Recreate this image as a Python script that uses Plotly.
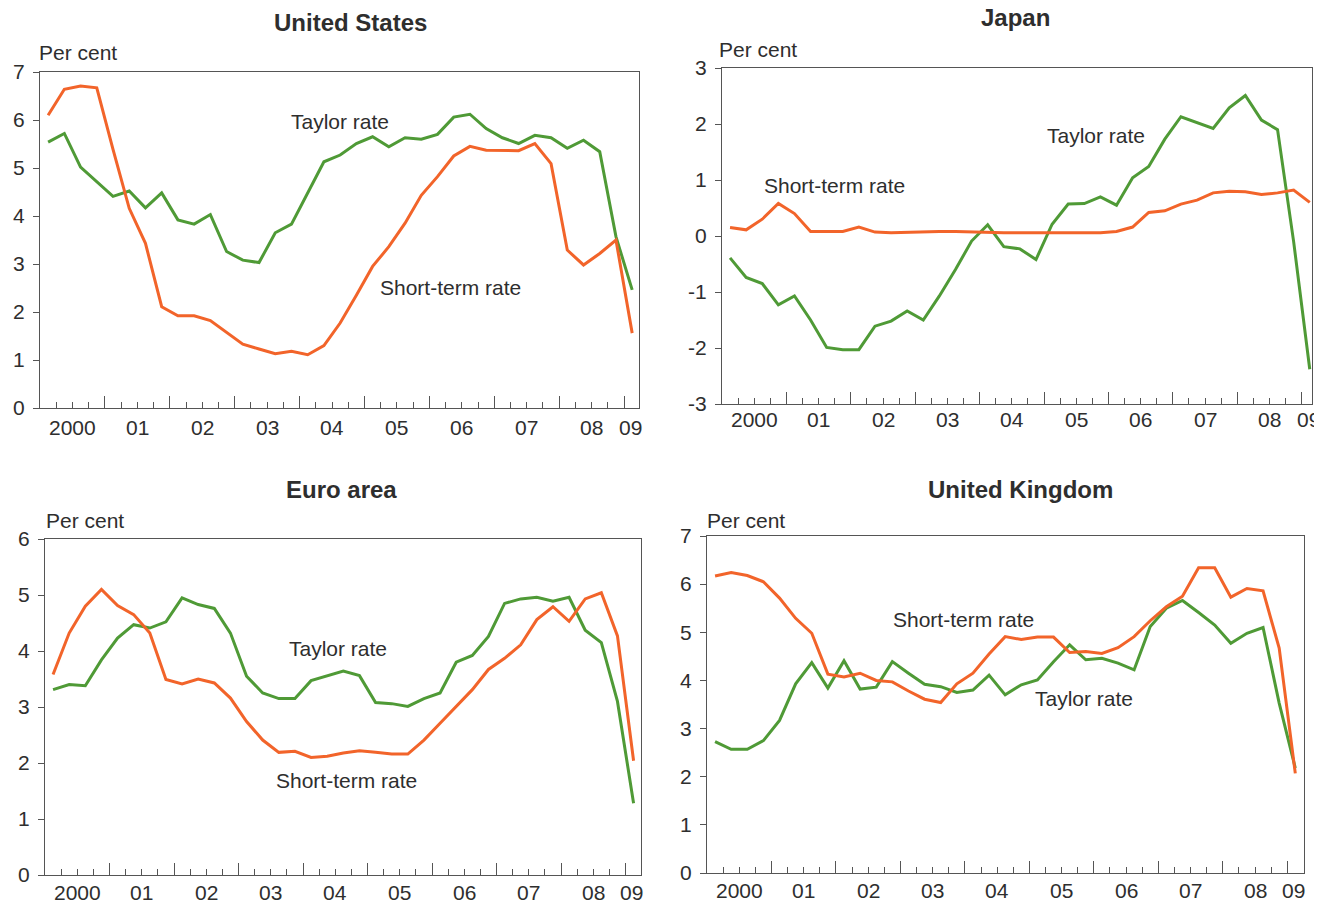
import plotly.graph_objects as go

# ---------------- data (quarterly, 2000Q1 .. 2009Q1) ----------------
quarters = [2000.125 + 0.25 * i for i in range(37)]
year_labels = ["2000", "01", "02", "03", "04", "05", "06", "07", "08", "09"]

us_short = [6.10, 6.64, 6.71, 6.67, 5.39, 4.16, 3.43, 2.11, 1.92, 1.92,
            1.82, 1.57, 1.33, 1.23, 1.13, 1.18, 1.11, 1.30, 1.77, 2.35,
            2.95, 3.36, 3.85, 4.43, 4.82, 5.25, 5.45, 5.37, 5.36, 5.36,
            5.51, 5.09, 3.29, 2.98, 3.22, 3.50, 1.56]
us_taylor = [5.54, 5.72, 5.02, 4.71, 4.41, 4.52, 4.17, 4.48, 3.92, 3.83,
             4.03, 3.26, 3.08, 3.03, 3.65, 3.83, 4.47, 5.13, 5.27, 5.51,
             5.65, 5.44, 5.63, 5.60, 5.70, 6.06, 6.12, 5.82, 5.63, 5.51,
             5.68, 5.63, 5.41, 5.58, 5.34, 3.57, 2.46]

jp_short = [0.15, 0.11, 0.30, 0.58, 0.40, 0.08, 0.08, 0.08, 0.16, 0.07,
            0.06, 0.07, 0.07, 0.08, 0.08, 0.07, 0.06, 0.06, 0.06, 0.06,
            0.06, 0.06, 0.06, 0.06, 0.08, 0.16, 0.42, 0.45, 0.57, 0.64,
            0.77, 0.80, 0.79, 0.74, 0.77, 0.82, 0.60]
jp_taylor = [-0.39, -0.74, -0.85, -1.23, -1.07, -1.50, -1.99, -2.03, -2.03, -1.61,
             -1.52, -1.34, -1.50, -1.07, -0.60, -0.09, 0.20, -0.19, -0.23, -0.42,
             0.21, 0.57, 0.58, 0.70, 0.55, 1.04, 1.24, 1.73, 2.13, 2.02,
             1.92, 2.29, 2.51, 2.07, 1.90, -0.10, -2.38]

ea_short = [3.58, 4.32, 4.80, 5.10, 4.81, 4.65, 4.32, 3.49, 3.41, 3.50,
            3.43, 3.16, 2.74, 2.41, 2.19, 2.21, 2.10, 2.12, 2.18, 2.22,
            2.19, 2.16, 2.16, 2.41, 2.71, 3.01, 3.31, 3.67, 3.87, 4.11,
            4.56, 4.79, 4.53, 4.93, 5.04, 4.27, 2.04]
ea_taylor = [3.31, 3.40, 3.38, 3.84, 4.23, 4.47, 4.41, 4.52, 4.95, 4.83,
             4.76, 4.32, 3.55, 3.25, 3.15, 3.15, 3.47, 3.56, 3.64, 3.56,
             3.08, 3.06, 3.01, 3.15, 3.25, 3.80, 3.92, 4.26, 4.85, 4.93,
             4.96, 4.89, 4.96, 4.37, 4.15, 3.10, 1.28]

uk_short = [6.17, 6.24, 6.18, 6.05, 5.71, 5.29, 4.98, 4.13, 4.07, 4.15,
            4.00, 3.97, 3.78, 3.61, 3.54, 3.93, 4.15, 4.55, 4.91, 4.85,
            4.90, 4.90, 4.58, 4.60, 4.56, 4.68, 4.91, 5.24, 5.53, 5.75,
            6.34, 6.34, 5.73, 5.91, 5.86, 4.67, 2.07]
uk_taylor = [2.73, 2.57, 2.57, 2.75, 3.17, 3.93, 4.37, 3.84, 4.41, 3.82,
             3.86, 4.39, 4.15, 3.92, 3.87, 3.75, 3.80, 4.11, 3.70, 3.91,
             4.01, 4.39, 4.74, 4.43, 4.46, 4.36, 4.22, 5.12, 5.50, 5.66,
             5.41, 5.15, 4.77, 4.98, 5.10, 3.53, 2.18]

titles = ["United States", "Japan", "Euro area", "United Kingdom"]
y_ranges = [(0, 7), (-3, 3), (0, 6), (0, 7)]
x_ends = [2009.23, 2009.16, 2009.24, 2009.26]

# ---------------- styling ----------------
ORANGE = "#F2642A"
GREEN = "#4F9A36"
TEXT = "#2e2e2e"
AXIS = "#555555"
FONT = "Liberation Sans, Arial, sans-serif"
OFF = 8                     # page body margin of the html page
W, H = 1322 - OFF, 902 - OFF


def px_x(x):
    return (x - OFF) / W


def px_y(y):
    return 1 - (y - OFF) / H


# plot-area pixel boxes in page pixels: (left, top, right, bottom)
boxes = [(40, 72, 639, 408), (722, 68, 1312, 404),
         (45, 539, 641, 875), (707, 536, 1304, 873)]
title_pos = [(350, 22), (1015, 18), (341, 489), (1020, 489)]
percent_pos = [(37, 53), (717, 49), (44, 520), (705, 520)]
label_shift = [-19, -15, -17, -17]
# label annotation positions in data units
label_pos = [
    [("Taylor rate", 2004.62, 5.96), ("Short-term rate", 2006.32, 2.52)],
    [("Short-term rate", 2001.74, 0.91), ("Taylor rate", 2005.81, 1.80)],
    [("Taylor rate", 2004.54, 4.04), ("Short-term rate", 2004.68, 1.68)],
    [("Short-term rate", 2003.98, 5.26), ("Taylor rate", 2005.85, 3.62)],
]

series = [(us_short, us_taylor), (jp_short, jp_taylor),
          (ea_short, ea_taylor), (uk_short, uk_taylor)]

fig = go.Figure()
annotations = []
layout = {}
year_starts = list(range(2000, 2010))
year_mids = [y + 0.5 for y in range(2000, 2009)] + [2009.1]

for k in range(4):
    n = k + 1
    xa = "x" if n == 1 else f"x{n}"
    ya = "y" if n == 1 else f"y{n}"
    short, taylor = series[k]
    fig.add_trace(go.Scatter(x=quarters, y=taylor, mode="lines",
                             line=dict(color=GREEN, width=3),
                             xaxis=xa, yaxis=ya, showlegend=False,
                             cliponaxis=False))
    fig.add_trace(go.Scatter(x=quarters, y=short, mode="lines",
                             line=dict(color=ORANGE, width=3),
                             xaxis=xa, yaxis=ya, showlegend=False,
                             cliponaxis=False))
    l, t, r, b = boxes[k]
    xdom = [px_x(l), px_x(r)]
    ydom = [px_y(b), px_y(t)]
    layout[f"xaxis{'' if n == 1 else n}"] = dict(
        domain=xdom, anchor=ya, range=[2000, x_ends[k]], automargin=False,
        tickmode="array", tickvals=year_starts, ticks="inside", ticklen=12,
        tickcolor=AXIS, tickwidth=1, showticklabels=False,
        minor=dict(tickmode="array",
                   tickvals=[2000 + 0.25 * q for q in range(37)],
                   ticks="inside", ticklen=6, tickcolor=AXIS, tickwidth=1,
                   showgrid=False),
        showline=True, linecolor=AXIS, linewidth=1.3, mirror=True,
        showgrid=False, zeroline=False, fixedrange=True)
    y0, y1 = y_ranges[k]
    yvals = list(range(y0, y1 + 1))
    layout[f"yaxis{'' if n == 1 else n}"] = dict(
        domain=ydom, anchor=xa, range=[y0, y1], automargin=False,
        tickmode="array", tickvals=yvals, ticktext=[str(v) for v in yvals],
        ticks="outside", ticklen=6, tickcolor=AXIS, tickwidth=1,
        ticklabelstandoff=4,
        tickfont=dict(family=FONT, size=21, color=TEXT),
        showline=True, linecolor=AXIS, linewidth=1.3, mirror=True,
        showgrid=False, zeroline=False, fixedrange=True)
    # year labels under the axis, centred in each year
    for lab, xm in zip(year_labels, year_mids):
        annotations.append(dict(x=xm, y=0, xref=xa, yref=f"{ya} domain",
                                xanchor="center", yanchor="middle",
                                yshift=label_shift[k],
                                showarrow=False, text=lab,
                                font=dict(family=FONT, size=21, color=TEXT)))
    # series labels
    for txt, lx, ly in label_pos[k]:
        annotations.append(dict(x=lx, y=ly, xref=xa, yref=ya, showarrow=False,
                                xanchor="center", yanchor="middle",
                                text=txt,
                                font=dict(family=FONT, size=21, color=TEXT)))
    # panel title
    tx, ty = title_pos[k]
    annotations.append(dict(x=px_x(tx), y=px_y(ty), xref="paper", yref="paper",
                            xanchor="center", yanchor="middle",
                            showarrow=False, text=f"<b>{titles[k]}</b>",
                            font=dict(family=FONT, size=24, color=TEXT)))
    px, py = percent_pos[k]
    annotations.append(dict(x=px_x(px), y=px_y(py), xref="paper", yref="paper",
                            xanchor="left", yanchor="middle",
                            showarrow=False, text="Per cent",
                            font=dict(family=FONT, size=21, color=TEXT)))

fig.update_layout(width=W, height=H, margin=dict(l=0, r=0, t=0, b=0),
                  paper_bgcolor="white", plot_bgcolor="white",
                  template="none",
                  annotations=annotations, **layout)

fig.write_html("out.html")
